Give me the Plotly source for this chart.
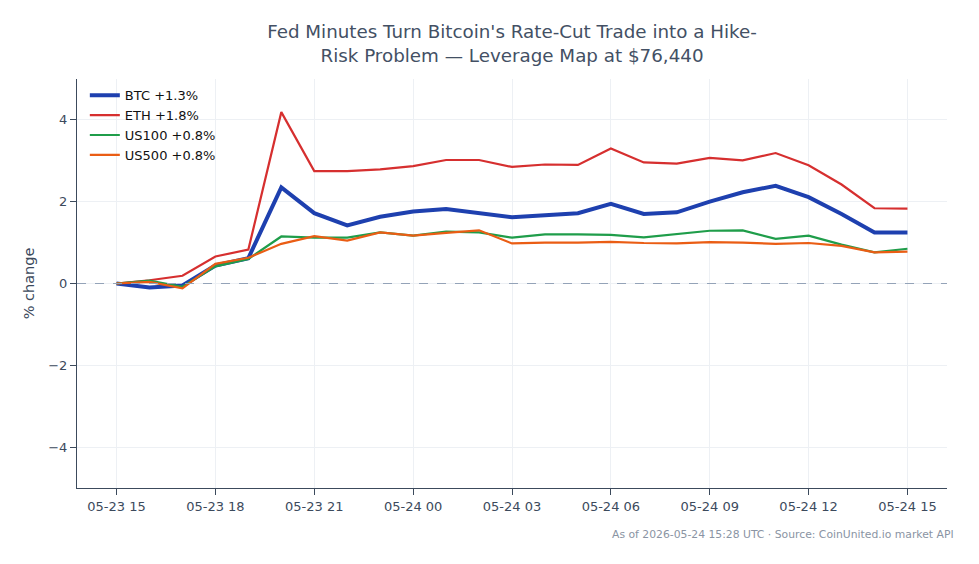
import pandas as pd
import plotly.graph_objects as go

times = pd.date_range("2026-05-23 15:00", periods=25, freq="h")

btc = [0.0, -0.10, -0.05, 0.44, 0.62, 2.35, 1.72, 1.42, 1.63, 1.76, 1.82, 1.73, 1.62, 1.67, 1.72,
       1.95, 1.70, 1.74, 2.00, 2.23, 2.39, 2.11, 1.70, 1.25, 1.25]
eth = [0.0, 0.08, 0.19, 0.66, 0.83, 4.19, 2.75, 2.75, 2.79, 2.87, 3.02, 3.02, 2.85, 2.91, 2.90,
       3.30, 2.96, 2.93, 3.07, 3.01, 3.19, 2.89, 2.42, 1.84, 1.83]
us100 = [0.0, 0.07, -0.08, 0.42, 0.60, 1.15, 1.12, 1.12, 1.25, 1.17, 1.27, 1.25, 1.12, 1.20, 1.20,
         1.19, 1.13, 1.21, 1.29, 1.30, 1.09, 1.17, 0.95, 0.76, 0.85]
us500 = [0.0, 0.04, -0.12, 0.48, 0.63, 0.97, 1.16, 1.05, 1.25, 1.17, 1.24, 1.30, 0.98, 1.00, 1.00,
         1.02, 0.99, 0.98, 1.01, 1.00, 0.97, 0.99, 0.92, 0.76, 0.78]

series = [
    ("BTC +1.3%", btc, "#1e40af", 4),
    ("ETH +1.8%", eth, "#d62f2f", 2.2),
    ("US100 +0.8%", us100, "#1f9d4a", 2.2),
    ("US500 +0.8%", us500, "#ea5d14", 2.2),
]

fig = go.Figure()
for name, vals, color, w in series:
    fig.add_trace(go.Scatter(x=times, y=vals, mode="lines", name=name,
                             line=dict(color=color, width=w)))

fig.add_hline(y=0, line=dict(color="#94a3b8", width=1, dash="dash"))

axis_col = "#3c4a5c"
fig.update_layout(
    width=979, height=564,
    margin=dict(l=77, r=32, t=79, b=76),
    paper_bgcolor="white", plot_bgcolor="white",
    font=dict(family="DejaVu Sans", size=13, color=axis_col),
    title=dict(text="Fed Minutes Turn Bitcoin's Rate-Cut Trade into a Hike-<br>Risk Problem — Leverage Map at $76,440",
               x=0.523, xanchor="center", y=0.932, yanchor="top",
               font=dict(size=18.3, color="#435064")),
    legend=dict(x=0.009, y=0.997, xanchor="left", yanchor="top",
                bgcolor="rgba(255,255,255,0)", font=dict(size=13, color="#111111")),
    showlegend=True,
)
fig.update_xaxes(
    range=[pd.Timestamp("2026-05-23 13:48"), pd.Timestamp("2026-05-24 16:12")],
    tickformat="%m-%d %H", dtick=3 * 3600 * 1000, tick0="2026-05-23 15:00",
    showgrid=True, gridcolor="#edf0f4", showline=True, linecolor=axis_col, linewidth=1,
    ticks="outside", ticklen=6, tickcolor=axis_col, zeroline=False,
)
fig.update_yaxes(
    range=[-5, 5], dtick=2, tick0=0,
    title=dict(text="% change", font=dict(size=14.5, color=axis_col), standoff=10),
    showgrid=True, gridcolor="#edf0f4", showline=True, linecolor=axis_col, linewidth=1,
    ticks="outside", ticklen=6, tickcolor=axis_col, zeroline=False,
)
fig.add_annotation(text="As of 2026-05-24 15:28 UTC · Source: CoinUnited.io market API",
                   xref="paper", yref="paper", x=1.01, y=-0.093, xanchor="right", yanchor="top",
                   showarrow=False, font=dict(size=10.8, color="#8a94a3"))

fig.write_html("out.html")
